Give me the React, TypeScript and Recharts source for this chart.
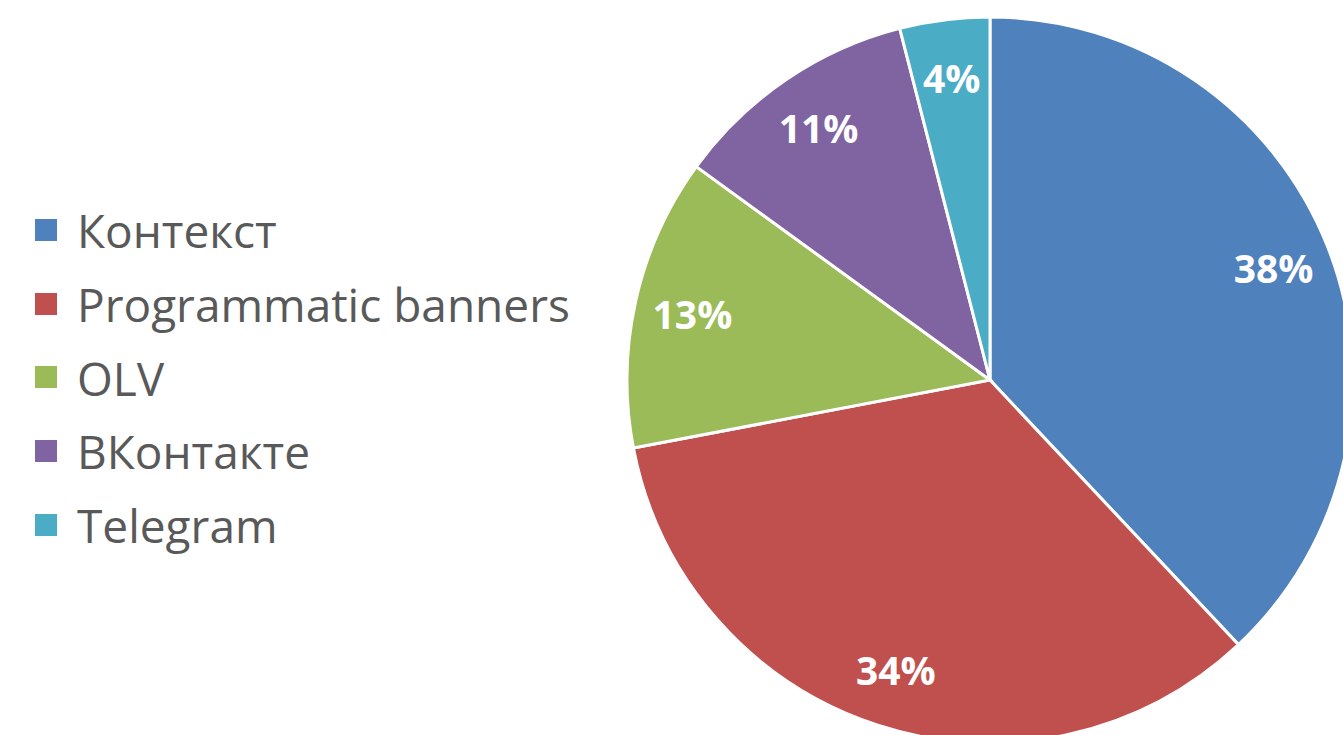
import { PieChart, Pie, Cell, Legend } from "recharts";

const categories = ["Контекст", "Programmatic banners", "OLV", "ВКонтакте", "Telegram"];
const shares = [38, 34, 13, 11, 4];
const colors = ["#4F81BD", "#C0504D", "#9BBB59", "#8064A2", "#4BACC6"];

const data = categories.map((name, i) => ({ name, value: shares[i] }));

const RAD = Math.PI / 180;

function renderLabel(props: any) {
  const { cx, cy, midAngle, outerRadius, value } = props;
  const r = outerRadius * 0.84;
  const x = cx + r * Math.cos(-midAngle * RAD);
  const y = cy + r * Math.sin(-midAngle * RAD);
  return (
    <text
      x={x}
      y={y}
      fill="#fff"
      textAnchor="middle"
      dominantBaseline="central"
      fontFamily="'Open Sans', sans-serif"
      fontWeight={700}
      fontSize={39}
    >
      {value}%
    </text>
  );
}

function LegendList() {
  return (
    <div style={{ fontFamily: "'Open Sans', sans-serif" }}>
      {categories.map((c, i) => (
        <div
          key={c}
          style={{ display: "flex", alignItems: "center", height: 73.8 }}
        >
          <span
            style={{
              width: 22,
              height: 22,
              background: colors[i],
              display: "inline-block",
              marginRight: 20,
            }}
          />
          <span style={{ fontSize: 46, color: "#595959", lineHeight: "74px" }}>{c}</span>
        </div>
      ))}
    </div>
  );
}

export default function App() {
  return (
    <div style={{ position: "absolute", left: 0, top: 0, background: "#fff" }}>
      <PieChart width={1343} height={735} margin={{ top: 0, right: 0, bottom: 0, left: 0 }}>
        <Pie
          data={data}
          dataKey="value"
          nameKey="name"
          cx={990}
          cy={380}
          outerRadius={363}
          startAngle={90}
          endAngle={-270}
          stroke="#fff"
          strokeWidth={3}
          label={renderLabel}
          labelLine={false}
          isAnimationActive={false}
        >
          {data.map((d, i) => (
            <Cell key={d.name} fill={colors[i]} />
          ))}
        </Pie>
        <Legend
          content={() => <LegendList />}
          wrapperStyle={{ position: "absolute", left: 35, top: 193, width: 600 }}
        />
      </PieChart>
    </div>
  );
}
